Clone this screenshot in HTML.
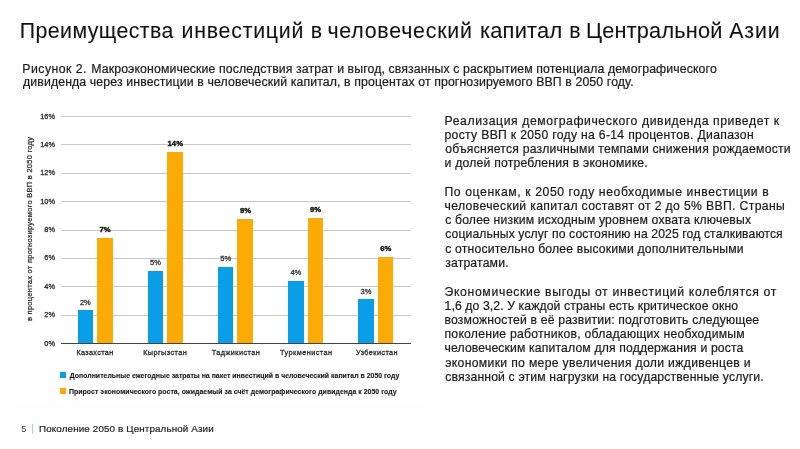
<!DOCTYPE html>
<html lang="ru"><head><meta charset="utf-8"><title>slide</title>
<style>
html,body{margin:0;padding:0;}
body{width:800px;height:449px;position:relative;overflow:hidden;background:#fefefe;font-family:"Liberation Sans", sans-serif;}
.t{position:absolute;white-space:nowrap;line-height:1;}
.c{-webkit-text-stroke:0.3px currentColor;}
.cb{-webkit-text-stroke:0.4px currentColor;}
.lg{-webkit-text-stroke:0.12px currentColor;}
.p{-webkit-text-stroke:0.2px currentColor;}
.h{-webkit-text-stroke:0.08px currentColor;}
.chartbg{position:absolute;left:18px;top:103px;width:404px;height:301px;background:#fff;}
.g{position:absolute;left:60.5px;width:350px;height:1px;background:#c8c8c8;}
.axis{position:absolute;left:60.5px;width:350px;top:342.9px;height:1.1px;background:#444;}
.bar{position:absolute;}
.b{background:#0a9ee9;}
.o{background:#fcab06;}
.sq{position:absolute;width:6px;height:6px;}
.ytitle{position:absolute;white-space:nowrap;line-height:1;font-size:7.5px;color:#2e2e2e;-webkit-text-stroke:0.25px currentColor;transform-origin:0 0;transform:rotate(-90deg);}
.sep{position:absolute;left:32.4px;top:424.2px;width:1.1px;height:9.8px;background:#a5d3ec;}
#wrap{position:absolute;left:0;top:0;width:800px;height:449px;will-change:transform;}
</style></head><body>
<div class="chartbg"></div>
<div id="wrap">
<div class="g" style="top:314.56px"></div>
<div class="g" style="top:286.21px"></div>
<div class="g" style="top:257.87px"></div>
<div class="g" style="top:229.52px"></div>
<div class="g" style="top:201.18px"></div>
<div class="g" style="top:172.84px"></div>
<div class="g" style="top:144.49px"></div>
<div class="g" style="top:116.15px"></div>
<div class="bar b" style="left:77.55px;top:310.20px;width:15.60px;height:33.50px"></div>
<div class="bar o" style="left:97.05px;top:237.90px;width:15.60px;height:105.80px"></div>
<div class="bar b" style="left:147.70px;top:270.70px;width:15.60px;height:73.00px"></div>
<div class="bar o" style="left:167.20px;top:151.80px;width:15.60px;height:191.90px"></div>
<div class="bar b" style="left:217.85px;top:266.70px;width:15.60px;height:77.00px"></div>
<div class="bar o" style="left:237.35px;top:218.70px;width:15.60px;height:125.00px"></div>
<div class="bar b" style="left:288.00px;top:280.60px;width:15.60px;height:63.10px"></div>
<div class="bar o" style="left:307.50px;top:217.80px;width:15.60px;height:125.90px"></div>
<div class="bar b" style="left:358.15px;top:299.20px;width:15.60px;height:44.50px"></div>
<div class="bar o" style="left:377.65px;top:257.10px;width:15.60px;height:86.60px"></div>
<div class="axis"></div>
<div class="sq b" style="left:59.6px;top:372.2px"></div>
<div class="sq o" style="left:59.6px;top:388.0px"></div>
<div class="sep"></div>
<div class="ytitle" id="ytitle" style="left:26.0px;top:321.3px;letter-spacing:0.267px">в процентах от прогнозируемого ВВП в 2050 году</div>
<div class="t h" id="t0" style="top:21.00px;font-size:21.3px;font-weight:400;color:#111;left:19.83px;letter-spacing:0.419px;">Преимущества</div>
<div class="t h" id="t1" style="top:21.00px;font-size:21.3px;font-weight:400;color:#111;left:181.45px;letter-spacing:0.794px;">инвестиций</div>
<div class="t h" id="t2" style="top:21.00px;font-size:21.3px;font-weight:400;color:#111;left:310.68px;letter-spacing:0.000px;">в</div>
<div class="t h" id="t3" style="top:21.00px;font-size:21.3px;font-weight:400;color:#111;left:327.45px;letter-spacing:0.796px;">человеческий</div>
<div class="t h" id="t4" style="top:21.00px;font-size:21.3px;font-weight:400;color:#111;left:480.38px;letter-spacing:0.200px;transform-origin:0 0;transform:scaleX(1.0262);">капитал</div>
<div class="t h" id="t5" style="top:21.00px;font-size:21.3px;font-weight:400;color:#111;left:569.14px;letter-spacing:0.000px;">в</div>
<div class="t h" id="t6" style="top:21.00px;font-size:21.3px;font-weight:400;color:#111;left:586.21px;letter-spacing:0.200px;transform-origin:0 0;transform:scaleX(1.0188);">Центральной</div>
<div class="t h" id="t7" style="top:21.00px;font-size:21.3px;font-weight:400;color:#111;left:729.23px;letter-spacing:0.880px;">Азии</div>
<div class="t p" id="t8" style="top:63.00px;font-size:12.3px;font-weight:400;color:#1a1a1a;left:22.30px;letter-spacing:0.465px;">Рисунок 2.</div>
<div class="t p" id="t9" style="top:63.00px;font-size:12.3px;font-weight:400;color:#1a1a1a;left:91.30px;letter-spacing:0.104px;">Макроэкономические последствия затрат и выгод, связанных с раскрытием потенциала демографического</div>
<div class="t p" id="t10" style="top:76.00px;font-size:12.3px;font-weight:400;color:#1a1a1a;left:23.00px;letter-spacing:0.116px;">дивиденда через инвестиции в человеческий капитал, в процентах от прогнозируемого ВВП в 2050 году.</div>
<div class="t p" id="t11" style="top:115.00px;font-size:12.2px;font-weight:400;color:#1a1a1a;left:444.53px;letter-spacing:0.591px;">Реализация демографического дивиденда приведет к</div>
<div class="t p" id="t12" style="top:129.00px;font-size:12.2px;font-weight:400;color:#1a1a1a;left:444.53px;letter-spacing:0.307px;">росту ВВП к 2050 году на 6-14 процентов. Диапазон</div>
<div class="t p" id="t13" style="top:143.00px;font-size:12.2px;font-weight:400;color:#1a1a1a;left:445.23px;letter-spacing:0.215px;">объясняется различными темпами снижения рождаемости</div>
<div class="t p" id="t14" style="top:157.00px;font-size:12.2px;font-weight:400;color:#1a1a1a;left:444.53px;letter-spacing:0.215px;">и долей потребления в экономике.</div>
<div class="t p" id="t15" style="top:186.00px;font-size:12.2px;font-weight:400;color:#1a1a1a;left:444.53px;letter-spacing:0.594px;">По оценкам, к 2050 году необходимые инвестиции в</div>
<div class="t p" id="t16" style="top:200.00px;font-size:12.2px;font-weight:400;color:#1a1a1a;left:444.53px;letter-spacing:0.361px;">человеческий капитал составят от 2 до 5% ВВП. Страны</div>
<div class="t p" id="t17" style="top:214.00px;font-size:12.2px;font-weight:400;color:#1a1a1a;left:445.23px;letter-spacing:0.166px;">с более низким исходным уровнем охвата ключевых</div>
<div class="t p" id="t18" style="top:228.00px;font-size:12.2px;font-weight:400;color:#1a1a1a;left:445.23px;letter-spacing:0.101px;">социальных услуг по состоянию на 2025 год сталкиваются</div>
<div class="t p" id="t19" style="top:243.00px;font-size:12.2px;font-weight:400;color:#1a1a1a;left:445.23px;letter-spacing:0.186px;">с относительно более высокими дополнительными</div>
<div class="t p" id="t20" style="top:257.00px;font-size:12.2px;font-weight:400;color:#1a1a1a;left:445.23px;letter-spacing:0.173px;">затратами.</div>
<div class="t p" id="t21" style="top:286.00px;font-size:12.2px;font-weight:400;color:#1a1a1a;left:444.53px;letter-spacing:0.667px;">Экономические выгоды от инвестиций колеблятся от</div>
<div class="t p" id="t22" style="top:300.00px;font-size:12.2px;font-weight:400;color:#1a1a1a;left:444.53px;letter-spacing:0.116px;">1,6 до 3,2. У каждой страны есть критическое окно</div>
<div class="t p" id="t23" style="top:314.00px;font-size:12.2px;font-weight:400;color:#1a1a1a;left:444.53px;letter-spacing:0.178px;">возможностей в её развитии: подготовить следующее</div>
<div class="t p" id="t24" style="top:328.00px;font-size:12.2px;font-weight:400;color:#1a1a1a;left:444.53px;letter-spacing:0.242px;">поколение работников, обладающих необходимым</div>
<div class="t p" id="t25" style="top:342.00px;font-size:12.2px;font-weight:400;color:#1a1a1a;left:444.53px;letter-spacing:0.152px;">человеческим капиталом для поддержания и роста</div>
<div class="t p" id="t26" style="top:357.00px;font-size:12.2px;font-weight:400;color:#1a1a1a;left:445.23px;letter-spacing:0.324px;">экономики по мере увеличения доли иждивенцев и</div>
<div class="t p" id="t27" style="top:371.00px;font-size:12.2px;font-weight:400;color:#1a1a1a;left:445.23px;letter-spacing:0.154px;">связанной с этим нагрузки на государственные услуги.</div>
<div class="t " id="t28" style="top:425.00px;font-size:9.0px;font-weight:400;color:#333;left:21.30px;">5</div>
<div class="t p" id="t29" style="top:424.00px;font-size:9.8px;font-weight:400;color:#222;left:39.07px;letter-spacing:0.141px;">Поколение 2050 в Центральной Азии</div>
<div class="t c" id="t30" style="top:340.00px;font-size:7.4px;font-weight:400;color:#2e2e2e;left:-45.00px;width:100px;text-align:right;">0%</div>
<div class="t c" id="t31" style="top:311.00px;font-size:7.4px;font-weight:400;color:#2e2e2e;left:-45.00px;width:100px;text-align:right;">2%</div>
<div class="t c" id="t32" style="top:283.00px;font-size:7.4px;font-weight:400;color:#2e2e2e;left:-45.00px;width:100px;text-align:right;">4%</div>
<div class="t c" id="t33" style="top:254.00px;font-size:7.4px;font-weight:400;color:#2e2e2e;left:-45.00px;width:100px;text-align:right;">6%</div>
<div class="t c" id="t34" style="top:226.00px;font-size:7.4px;font-weight:400;color:#2e2e2e;left:-45.00px;width:100px;text-align:right;">8%</div>
<div class="t c" id="t35" style="top:198.00px;font-size:7.4px;font-weight:400;color:#2e2e2e;left:-45.00px;width:100px;text-align:right;">10%</div>
<div class="t c" id="t36" style="top:169.00px;font-size:7.4px;font-weight:400;color:#2e2e2e;left:-45.00px;width:100px;text-align:right;">12%</div>
<div class="t c" id="t37" style="top:141.00px;font-size:7.4px;font-weight:400;color:#2e2e2e;left:-45.00px;width:100px;text-align:right;">14%</div>
<div class="t c" id="t38" style="top:113.00px;font-size:7.4px;font-weight:400;color:#2e2e2e;left:-45.00px;width:100px;text-align:right;">16%</div>
<div class="t c" id="t39" style="top:349.00px;font-size:7.3px;font-weight:400;color:#2e2e2e;left:76.38px;letter-spacing:0.341px;">Казахстан</div>
<div class="t c" id="t40" style="top:349.00px;font-size:7.3px;font-weight:400;color:#2e2e2e;left:143.15px;letter-spacing:0.423px;">Кыргызстан</div>
<div class="t c" id="t41" style="top:349.00px;font-size:7.3px;font-weight:400;color:#2e2e2e;left:211.69px;letter-spacing:0.449px;">Таджикистан</div>
<div class="t c" id="t42" style="top:349.00px;font-size:7.3px;font-weight:400;color:#2e2e2e;left:280.00px;letter-spacing:0.458px;">Туркменистан</div>
<div class="t c" id="t43" style="top:349.00px;font-size:7.3px;font-weight:400;color:#2e2e2e;left:356.00px;letter-spacing:0.411px;">Узбекистан</div>
<div class="t c" id="t44" style="top:299.00px;font-size:7.5px;font-weight:400;color:#333;left:35.35px;width:100px;text-align:center;">2%</div>
<div class="t cb" id="t45" style="top:226.00px;font-size:7.7px;font-weight:700;color:#111;left:55.15px;width:100px;text-align:center;">7%</div>
<div class="t c" id="t46" style="top:259.00px;font-size:7.5px;font-weight:400;color:#333;left:105.50px;width:100px;text-align:center;">5%</div>
<div class="t cb" id="t47" style="top:140.00px;font-size:7.7px;font-weight:700;color:#111;left:125.30px;width:100px;text-align:center;">14%</div>
<div class="t c" id="t48" style="top:255.00px;font-size:7.5px;font-weight:400;color:#333;left:175.65px;width:100px;text-align:center;">5%</div>
<div class="t cb" id="t49" style="top:207.00px;font-size:7.7px;font-weight:700;color:#111;left:195.45px;width:100px;text-align:center;">9%</div>
<div class="t c" id="t50" style="top:269.00px;font-size:7.5px;font-weight:400;color:#333;left:245.80px;width:100px;text-align:center;">4%</div>
<div class="t cb" id="t51" style="top:206.00px;font-size:7.7px;font-weight:700;color:#111;left:265.60px;width:100px;text-align:center;">9%</div>
<div class="t c" id="t52" style="top:288.00px;font-size:7.5px;font-weight:400;color:#333;left:315.95px;width:100px;text-align:center;">3%</div>
<div class="t cb" id="t53" style="top:245.00px;font-size:7.7px;font-weight:700;color:#111;left:335.75px;width:100px;text-align:center;">6%</div>
<div class="t lg" id="t54" style="top:373.00px;font-size:6.9px;font-weight:700;color:#1a1a1a;left:69.77px;letter-spacing:0.028px;">Дополнительные ежегодные затраты на пакет инвестиций в человеческий капитал в 2050 году</div>
<div class="t lg" id="t55" style="top:389.00px;font-size:6.9px;font-weight:700;color:#1a1a1a;left:69.07px;letter-spacing:0.051px;">Прирост экономического роста, ожидаемый за счёт демографического дивиденда к 2050 году</div>
</div>
</body></html>
